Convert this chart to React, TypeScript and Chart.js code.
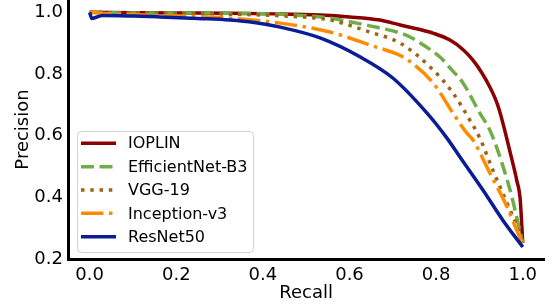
import React, { useEffect, useRef } from "react";
import { Chart, registerables } from "chart.js";

Chart.register(...registerables);

const seriesNames = ["IOPLIN", "EfficientNet-B3", "VGG-19", "Inception-v3", "ResNet50"];
const seriesColors = ["#8b0000", "#70ad47", "#9c6615", "#ff8c00", "#0a1d96"];

const ioplinRecall = [0, 0.1, 0.2, 0.324, 0.43, 0.532, 0.6, 0.67, 0.717, 0.76, 0.794, 0.832, 0.863, 0.885, 0.905, 0.924, 0.938, 0.948, 0.964, 0.977, 0.986, 0.994, 1.0];
const ioplinPrecision = [1.0, 0.999, 0.998, 0.997, 0.995, 0.991, 0.985, 0.975, 0.959, 0.945, 0.932, 0.91, 0.878, 0.845, 0.805, 0.758, 0.715, 0.673, 0.586, 0.511, 0.456, 0.395, 0.252];

const effRecall = [0, 0.1, 0.2, 0.324, 0.45, 0.555, 0.647, 0.717, 0.74, 0.775, 0.809, 0.835, 0.862, 0.901, 0.924, 0.952, 0.975, 0.989, 1.0];
const effPrecision = [1.0, 0.998, 0.998, 0.997, 0.993, 0.981, 0.956, 0.933, 0.92, 0.89, 0.855, 0.815, 0.771, 0.673, 0.618, 0.511, 0.401, 0.317, 0.252];

const vggRecall = [0, 0.1, 0.2, 0.324, 0.45, 0.555, 0.647, 0.717, 0.786, 0.839, 0.878, 0.901, 0.931, 0.964, 0.987, 1.0];
const vggPrecision = [1.0, 0.997, 0.996, 0.994, 0.988, 0.975, 0.936, 0.9, 0.823, 0.738, 0.65, 0.592, 0.488, 0.381, 0.304, 0.25];

const incRecall = [0, 0.05, 0.15, 0.25, 0.324, 0.44, 0.555, 0.647, 0.717, 0.74, 0.793, 0.839, 0.871, 0.885, 0.924, 0.964, 0.989, 1.0];
const incPrecision = [1.0, 0.995, 0.99, 0.986, 0.981, 0.965, 0.936, 0.894, 0.86, 0.84, 0.771, 0.673, 0.608, 0.586, 0.479, 0.368, 0.284, 0.25];

const resRecall = [0, 0.005, 0.03, 0.1, 0.162, 0.25, 0.324, 0.38, 0.44, 0.532, 0.625, 0.7, 0.779, 0.825, 0.855, 0.908, 0.954, 1.0];
const resPrecision = [1.0, 0.98, 0.99, 0.988, 0.985, 0.98, 0.975, 0.967, 0.952, 0.917, 0.855, 0.787, 0.673, 0.592, 0.531, 0.424, 0.326, 0.239];

const xTicks = [0, 0.2, 0.4, 0.6, 0.8, 1.0];
const yTicks = [0.2, 0.4, 0.6, 0.8, 1.0];

const LW = 3.5;
const seriesDashes: number[][] = [
  [],
  [3.7 * LW, 1.6 * LW],
  [1 * LW, 1.65 * LW],
  [6.4 * LW, 1.6 * LW, 1 * LW, 1.6 * LW],
  [],
];

const recallSets = [ioplinRecall, effRecall, vggRecall, incRecall, resRecall];
const precisionSets = [ioplinPrecision, effPrecision, vggPrecision, incPrecision, resPrecision];

const FONT = "'DejaVu Sans', sans-serif";

const legendPlugin = {
  id: "insideLegend",
  afterDatasetsDraw(chart: any) {
    const ctx = chart.ctx;
    const x0 = 77;
    const y0 = 131;
    const w = 176;
    const h = 121;
    ctx.save();
    ctx.beginPath();
    if (ctx.roundRect) ctx.roundRect(x0 + 0.5, y0 + 0.5, w, h, 4);
    else ctx.rect(x0 + 0.5, y0 + 0.5, w, h);
    ctx.fillStyle = "rgba(255,255,255,0.8)";
    ctx.fill();
    ctx.strokeStyle = "#d0d0d0";
    ctx.lineWidth = 1;
    ctx.stroke();
    seriesNames.forEach((name, i) => {
      const y = 143.3 + i * 23.35;
      ctx.beginPath();
      ctx.setLineDash(seriesDashes[i]);
      ctx.lineDashOffset = 0;
      ctx.strokeStyle = seriesColors[i];
      ctx.lineWidth = LW;
      ctx.lineCap = "butt";
      ctx.moveTo(81, y);
      ctx.lineTo(116, y);
      ctx.stroke();
      ctx.setLineDash([]);
      ctx.fillStyle = "#000";
      ctx.font = `16px ${FONT}`;
      ctx.textAlign = "left";
      ctx.textBaseline = "middle";
      ctx.fillText(name, 128, y + 1);
    });
    ctx.restore();
  },
};

export default function App() {
  const canvasRef = useRef<HTMLCanvasElement | null>(null);

  useEffect(() => {
    const canvas = canvasRef.current;
    if (!canvas) return;
    const datasets = seriesNames.map((name, i) => ({
      label: name,
      data: recallSets[i].map((r, j) => ({ x: r, y: precisionSets[i][j] })),
      borderColor: seriesColors[i],
      backgroundColor: seriesColors[i],
      borderWidth: LW,
      borderDash: seriesDashes[i],
      borderJoinStyle: "round" as const,
      cubicInterpolationMode: "monotone" as const,
      pointRadius: 0,
      fill: false,
      order: seriesNames.length - 1 - i,
    }));
    const chart = new Chart(canvas, {
      type: "line",
      data: { datasets },
      plugins: [legendPlugin],
      options: {
        animation: false,
        responsive: false,
        devicePixelRatio: 1,
        layout: { padding: { left: 0, right: 8.6, top: 0, bottom: 0 } },
        plugins: {
          legend: { display: false },
          tooltip: { enabled: false },
        },
        scales: {
          x: {
            type: "linear",
            min: -0.05,
            max: 1.05,
            afterBuildTicks: (scale: any) => {
              scale.ticks = xTicks.map((v) => ({ value: v }));
            },
            afterFit: (scale: any) => {
              scale.height = 47;
              scale.paddingLeft = 0;
              scale.paddingRight = 0;
            },
            grid: { display: false, drawTicks: false },
            border: { display: true, width: 3, color: "#000" },
            ticks: {
              color: "#000",
              font: { family: FONT, size: 18 },
              padding: 6,
              maxRotation: 0,
              autoSkip: false,
              callback: (v: any) => Number(v).toFixed(1),
            },
            title: {
              display: true,
              text: "Recall",
              color: "#000",
              font: { family: FONT, size: 18 },
              padding: { top: 0, bottom: 2 },
            },
          },
          y: {
            type: "linear",
            min: 0.2,
            max: 1.04,
            afterBuildTicks: (scale: any) => {
              scale.ticks = yTicks.map((v) => ({ value: v }));
            },
            afterFit: (scale: any) => {
              scale.width = 68;
              scale.paddingTop = 0;
              scale.paddingBottom = 0;
            },
            grid: { display: false, drawTicks: false },
            border: { display: true, width: 3, color: "#000" },
            ticks: {
              color: "#000",
              font: { family: FONT, size: 18 },
              padding: 5,
              autoSkip: false,
              callback: (v: any) => Number(v).toFixed(1),
            },
            title: {
              display: true,
              text: "Precision",
              color: "#000",
              font: { family: FONT, size: 18 },
              padding: { top: 12.5, bottom: 0 },
            },
          },
        },
      },
    });
    return () => chart.destroy();
  }, []);

  return (
    <div style={{ position: "absolute", left: 0, top: 0, width: 553, height: 306, background: "#fff" }}>
      <canvas ref={canvasRef} width={553} height={306} style={{ display: "block" }} />
    </div>
  );
}
